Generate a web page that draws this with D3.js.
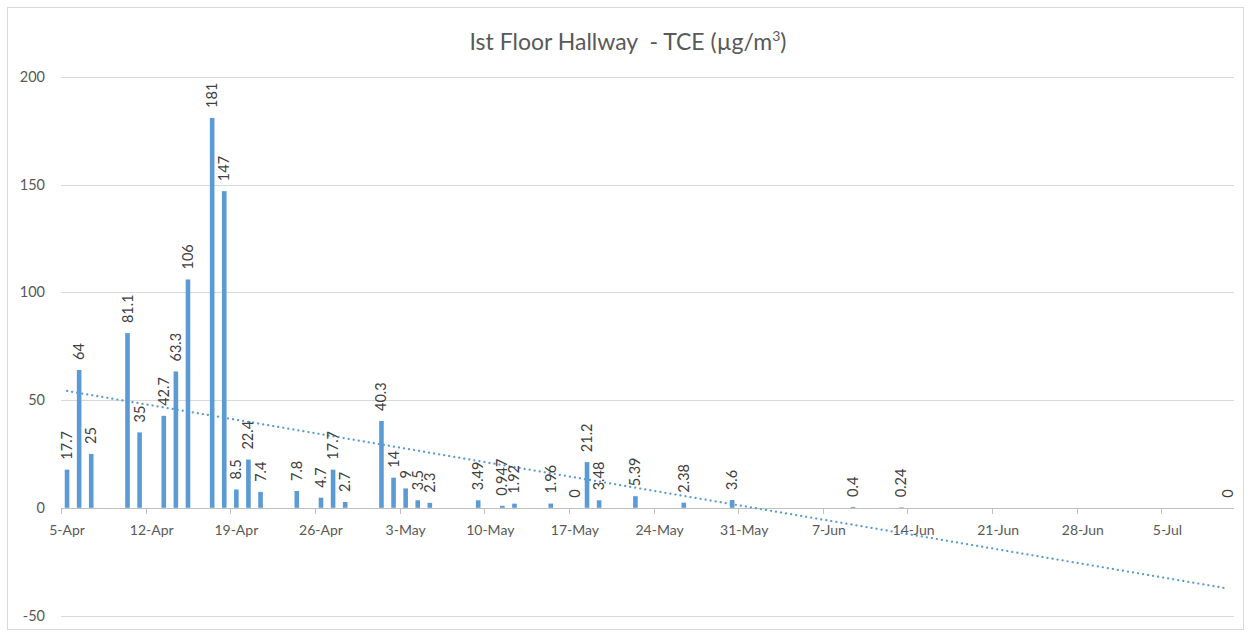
<!DOCTYPE html>
<html>
<head>
<meta charset="utf-8">
<script src="https://cdn.jsdelivr.net/npm/d3@7"></script>
<style>
  body { margin: 0; background: #fff; }
  text { font-family: Lato, "Open Sans", sans-serif; }
</style>
</head>
<body>
<svg width="1251" height="633"></svg>
<script>
// sample dates and TCE readings
var dates = ["2019-04-05", "2019-04-06", "2019-04-07", "2019-04-10", "2019-04-11", "2019-04-13",
   "2019-04-14", "2019-04-15", "2019-04-17", "2019-04-18", "2019-04-19", "2019-04-20", "2019-04-21",
   "2019-04-24", "2019-04-26", "2019-04-27", "2019-04-28", "2019-05-01", "2019-05-02", "2019-05-03",
   "2019-05-04", "2019-05-05", "2019-05-09", "2019-05-11", "2019-05-12", "2019-05-15", "2019-05-17",
   "2019-05-18", "2019-05-19", "2019-05-22", "2019-05-26", "2019-05-30", "2019-06-09", "2019-06-13",
   "2019-07-10"];
var values = [17.7, 64, 25, 81.1, 35, 42.7, 63.3, 106, 181, 147, 8.5, 22.4, 7.4,
   7.8, 4.7, 17.7, 2.7, 40.3, 14, 9, 3.5, 2.3, 3.49, 0.947, 1.92, 1.96, 0,
   21.2, 3.48, 5.39, 2.38, 3.6, 0.4, 0.24, 0];
var yTicks = [-50, 0, 50, 100, 150, 200];
var axisStart = "2019-04-05";
var axisEnd = "2019-07-11";

var parse = d3.utcParse("%Y-%m-%d");
var DAY = 864e5;

var data = dates.map(function(d, i) {
   return { date: parse(d), value: values[i], label: String(values[i]) };
});

var svg = d3.select("svg");

// chart border
svg.append("rect")
   .attr("x", 7.5).attr("y", 7.5)
   .attr("width", 1236).attr("height", 622)
   .attr("fill", "#fff")
   .attr("stroke", "#d9d9d9");

var x = d3.scaleUtc()
   .domain([parse(axisStart), parse(axisEnd)])
   .range([61, 1234]);

var y = d3.scaleLinear()
   .domain([-50, 200])
   .range([615.5, 77]);

// centre of a day slot
function cx(d) {
   return x(new Date(d.getTime() + DAY / 2));
}

// gridlines
svg.append("g")
   .selectAll("line")
   .data(yTicks.filter(function(t) { return t !== 0; }))
   .join("line")
   .attr("x1", 61).attr("x2", 1234)
   .attr("y1", function(d) { return Math.round(y(d)) + 0.5; })
   .attr("y2", function(d) { return Math.round(y(d)) + 0.5; })
   .attr("stroke", "#d9d9d9");

// y labels
svg.append("g")
   .selectAll("text")
   .data(yTicks)
   .join("text")
   .attr("x", 45)
   .attr("y", function(d) { return y(d) + 5; })
   .attr("text-anchor", "end")
   .attr("font-size", 14.5)
   .attr("fill", "#595959")
   .text(function(d) { return d; });

// bars
svg.append("g")
   .selectAll("rect")
   .data(data)
   .join("rect")
   .attr("x", function(d) { return cx(d.date) - 2.3; })
   .attr("width", 4.6)
   .attr("y", function(d) { return y(d.value); })
   .attr("height", function(d) { return y(0) - y(d.value); })
   .attr("fill", "#5b9bd5");

// x axis
var xTicks = d3.utcDay.range(parse(axisStart), parse(axisEnd), 7);
var xAxis = svg.append("g");
xAxis.append("line")
   .attr("x1", 61).attr("x2", 1234)
   .attr("y1", Math.round(y(0)) + 0.5).attr("y2", Math.round(y(0)) + 0.5)
   .attr("stroke", "#bfbfbf");
xAxis.selectAll(".tick")
   .data(xTicks)
   .join("line")
   .attr("class", "tick")
   .attr("x1", function(d) { return Math.round(x(d)) + 0.5; })
   .attr("x2", function(d) { return Math.round(x(d)) + 0.5; })
   .attr("y1", Math.round(y(0)))
   .attr("y2", Math.round(y(0)) + 6)
   .attr("stroke", "#bfbfbf");
var fmt = d3.utcFormat("%-d-%b");
xAxis.selectAll("text")
   .data(xTicks)
   .join("text")
   .attr("x", function(d) { return cx(d); })
   .attr("y", y(0) + 27)
   .attr("text-anchor", "middle")
   .attr("font-size", 14)
   .attr("fill", "#595959")
   .text(function(d) { return fmt(d); });

// linear trendline (least squares on day number)
var xs = data.map(function(d) { return (d.date - parse(axisStart)) / DAY; });
var mx = d3.mean(xs), my = d3.mean(values);
var sxy = d3.sum(xs, function(v, i) { return (v - mx) * (values[i] - my); });
var sxx = d3.sum(xs, function(v) { return (v - mx) * (v - mx); });
var slope = sxy / sxx, icpt = my - slope * mx;
var ends = [data[0].date, data[data.length - 1].date];
svg.append("path")
   .datum(ends)
   .attr("d", d3.line()
      .x(function(d) { return cx(d); })
      .y(function(d) {
         var t = (d - parse(axisStart)) / DAY;
         return y(icpt + slope * t);
      }))
   .attr("fill", "none")
   .attr("stroke", "#5b9bd5")
   .attr("stroke-width", 2.2)
   .attr("stroke-linecap", "round")
   .attr("stroke-dasharray", "0.1 5");

// data labels, rotated
svg.append("g")
   .selectAll("text")
   .data(data)
   .join("text")
   .attr("transform", function(d) {
      return "translate(" + (cx(d.date) + 5) + "," + (y(d.value) - 10) + ") rotate(-90)";
   })
   .attr("font-size", 14.5)
   .attr("fill", "#404040")
   .text(function(d) { return d.label; });

// title
var title = svg.append("text")
   .attr("x", 628)
   .attr("y", 50)
   .attr("text-anchor", "middle")
   .attr("font-size", 23)
   .attr("fill", "#595959")
   .style("white-space", "pre");
title.append("tspan").text("Ist Floor Hallway \u00a0- TCE (\u00b5g/m");
title.append("tspan").attr("dy", -9).attr("font-size", 14).text("3");
title.append("tspan").attr("dy", 9).text(")");
</script>
</body>
</html>
